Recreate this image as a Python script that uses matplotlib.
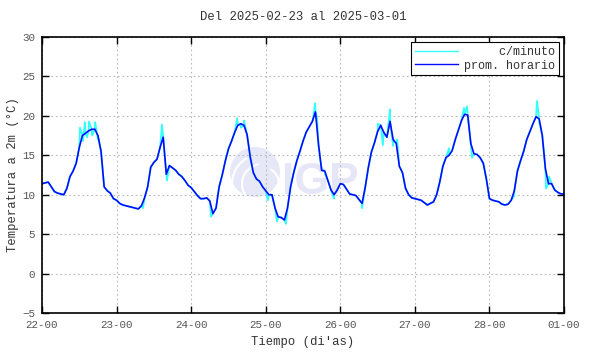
import numpy as np
import matplotlib
matplotlib.use('Agg')
import matplotlib.pyplot as plt
from matplotlib.patches import Circle, Arc

plt.rcParams['font.family'] = ['Liberation Mono', 'DejaVu Sans Mono']

# hourly averages (prom. horario), one list per day
day1 = [11.4, 11.5, 11.6, 11.0, 10.4, 10.2, 10.1, 10.0, 10.8, 12.3, 13.0, 14.0,
        16.0, 17.5, 17.8, 18.1, 18.3, 18.3, 17.5, 15.5, 11.0, 10.5, 10.2, 9.5]
day2 = [9.3, 8.9, 8.7, 8.6, 8.5, 8.4, 8.3, 8.2, 8.6, 9.6, 11.0, 13.5,
        14.1, 14.5, 16.0, 17.3, 12.6, 13.7, 13.4, 13.1, 12.6, 12.3, 11.8, 11.2]
day3 = [10.9, 10.4, 9.9, 9.5, 9.5, 9.6, 9.2, 7.6, 8.3, 11.0, 12.5, 14.3,
        15.8, 16.8, 17.9, 18.8, 19.0, 18.8, 17.6, 14.8, 12.8, 12.0, 11.7, 11.0]
day4 = [10.5, 10.0, 10.0, 8.3, 7.2, 7.1, 6.8, 8.3, 11.0, 12.8, 14.3, 15.5,
        16.8, 17.9, 18.6, 19.3, 20.5, 16.3, 13.1, 13.0, 11.8, 10.6, 10.0, 10.6]
day5 = [11.4, 11.3, 10.7, 10.1, 10.0, 9.9, 9.4, 8.9, 10.9, 13.4, 15.4, 16.6,
        18.0, 18.8, 17.9, 17.3, 19.3, 17.0, 16.5, 13.6, 12.8, 10.8, 10.0, 9.6]
day6 = [9.5, 9.4, 9.3, 9.0, 8.7, 8.9, 9.1, 10.0, 11.6, 13.6, 14.7, 15.0,
        15.6, 17.0, 18.2, 19.4, 20.2, 20.1, 16.5, 15.2, 15.1, 14.7, 14.0, 12.0]
day7 = [9.5, 9.3, 9.2, 9.1, 8.8, 8.7, 8.8, 9.3, 10.5, 13.0, 14.3, 15.5,
        17.0, 18.0, 19.0, 19.9, 19.6, 17.5, 13.3, 11.4, 11.4, 10.6, 10.3, 10.1, 10.1]

# extra minute readings (c/minuto) where they stray from the hourly line
spike_h = [12.2, 13.2, 13.8, 14.5, 15.1, 16.1, 17.1, 18.0,
           32.5, 38.6, 40.2,
           54.4, 62.8, 64.0, 65.0, 67.3, 72.7,
           75.6, 78.5, 87.2, 87.9, 88.5, 91.1, 94.0,
           103.0, 108.1, 109.7, 112.0, 113.0, 114.3,
           131.0, 135.8, 136.8, 138.4,
           151.9, 159.3, 160.0, 162.2, 163.2]
spike_v = [18.5, 16.8, 19.2, 17.3, 19.3, 17.5, 19.2, 17.0,
           8.3, 18.9, 11.8,
           7.2, 19.7, 18.5, 19.4, 14.2, 9.3,
           6.6, 6.3, 19.6, 21.6, 19.8, 12.6, 9.5,
           8.3, 19.0, 16.3, 20.8, 16.2, 17.0,
           15.9, 21.0, 21.2, 14.7,
           9.8, 21.9, 19.2, 10.8, 12.3]

xtick_labels = ['22-00', '23-00', '24-00', '25-00', '26-00', '27-00', '28-00', '01-00']
yticks = [-5, 0, 5, 10, 15, 20, 25, 30]

hourly = np.array(day1 + day2 + day3 + day4 + day5 + day6 + day7)
hours = np.arange(len(hourly))

cy_h = np.concatenate([hours, spike_h])
cy_v = np.concatenate([hourly, spike_v])
order = np.argsort(cy_h)
cy_h, cy_v = cy_h[order], cy_v[order]

fig = plt.figure(figsize=(5.9, 3.54), dpi=100)
ax = fig.add_axes([0.0712, 0.1158, 0.8848, 0.7797])

# faint IGP watermark, kept under the data
ax.add_patch(Circle((2.55, 1.82), 0.25, transform=fig.dpi_scale_trans,
                    facecolor='#e6e8f7', edgecolor='none', zorder=0.5))
for r, t1, t2 in [(0.20, 100, 250), (0.30, 120, 220), (0.17, 290, 60)]:
    ax.add_patch(Arc((2.62, 1.70), 2 * r, 2 * r, theta1=t1, theta2=t2,
                     transform=fig.dpi_scale_trans, color='white', lw=1.5, zorder=0.6))
ax.text(0.478, 0.485, 'IGP', transform=fig.transFigure, family='Liberation Sans',
        fontweight='bold', fontsize=32, color='#e6e6f6', ha='left', va='center',
        zorder=0.5)

ax.plot(cy_h, cy_v, color='#33ffff', lw=1.3, label='     c/minuto', zorder=2)
ax.plot(hours, hourly, color='#0a0aff', lw=1.2, label='prom. horario', zorder=3)

ax.set_xlim(0, 168)
ax.set_ylim(-5, 30)
ax.set_xticks(np.arange(0, 169, 24))
ax.set_xticklabels(xtick_labels)
ax.set_yticks(yticks)
ax.grid(True, color='#b8b8b8', linestyle=(0, (1.5, 2.5)), lw=0.8, zorder=0.2)

ax.tick_params(direction='in', top=True, right=True, length=5, width=1,
               labelsize=7.8, labelcolor='#555555', pad=5)
for s in ax.spines.values():
    s.set_linewidth(1.2)
    s.set_zorder(4)

ax.set_title('Del 2025-02-23 al 2025-03-01', fontsize=8.8, color='#333333', pad=12)
ax.set_xlabel("Tiempo (di'as)", fontsize=8.8, color='#333333', labelpad=4)
ax.set_ylabel('Temperatura a 2m (°C)', fontsize=8.8, color='#333333', labelpad=2)

leg = ax.legend(loc='upper right', fontsize=8.5, frameon=True, fancybox=False,
                edgecolor='black', framealpha=1, borderaxespad=0.45,
                handlelength=3.7, handletextpad=0.5, borderpad=0.3, labelspacing=0.15)
leg.get_frame().set_linewidth(0.8)
leg.set_zorder(5)
for line in leg.get_lines():
    line.set_linewidth(1.0)
for t in leg.get_texts():
    t.set_color('#333333')

fig.savefig('out.png', dpi=100)
